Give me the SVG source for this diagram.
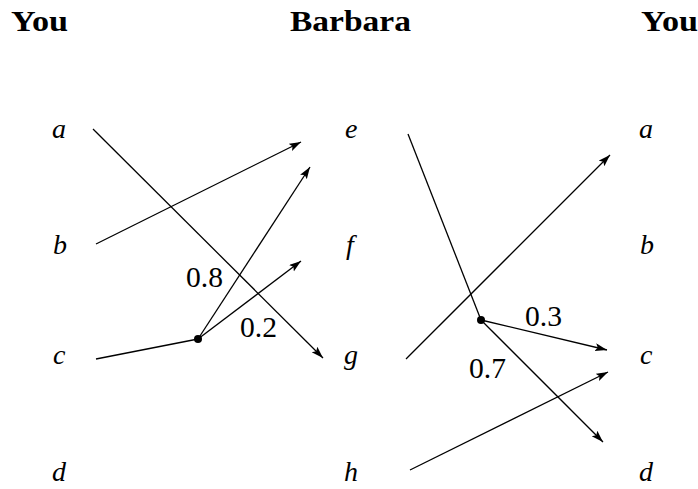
<svg xmlns="http://www.w3.org/2000/svg" width="698" height="489" viewBox="0 0 698 489">
<style>
.ln{stroke:#000;stroke-width:1.3;fill:none}
.arr{marker-end:url(#ah)}
</style>
<defs>
<marker id="ah" markerUnits="userSpaceOnUse" markerWidth="14" markerHeight="10" refX="12" refY="4" orient="auto">
<path d="M0,0 L12,4 L0,8 L2.5,4 Z" fill="#000"/>
</marker>
</defs>
<g id="headers" font-family="Liberation Serif, serif" font-weight="bold" font-size="29" fill="#000">
<text x="11" y="31" textLength="57" lengthAdjust="spacingAndGlyphs">You</text>
<text x="290" y="31" textLength="121" lengthAdjust="spacingAndGlyphs">Barbara</text>
<text x="641" y="31" textLength="57" lengthAdjust="spacingAndGlyphs">You</text>
</g>
<g font-family="Liberation Serif, serif" font-style="italic" font-size="28" fill="#000">
<g id="you-left">
<g id="node-a1"><text x="52" y="138">a</text></g>
<g id="node-b1"><text x="53" y="254">b</text></g>
<g id="node-c1"><text x="53" y="364">c</text></g>
<g id="node-d1"><text x="52" y="481">d</text></g>
</g>
<g id="barbara">
<g id="node-e"><text x="345" y="138">e</text></g>
<g id="node-f"><text x="346" y="254">f</text></g>
<g id="node-g"><text x="344" y="364">g</text></g>
<g id="node-h"><text x="344" y="481">h</text></g>
</g>
<g id="you-right">
<g id="node-a2"><text x="639" y="138">a</text></g>
<g id="node-b2"><text x="640" y="254">b</text></g>
<g id="node-c2"><text x="640" y="364">c</text></g>
<g id="node-d2"><text x="639" y="481">d</text></g>
</g>
</g>
<g id="chance-left">
<circle cx="198" cy="339" r="4" fill="#000"/>
</g>
<g id="chance-right">
<circle cx="481" cy="320" r="4" fill="#000"/>
</g>
<g id="connectors">
<line class="ln arr" x1="93" y1="129" x2="323" y2="358"/>
<line class="ln arr" x1="96" y1="244" x2="301" y2="142"/>
<line class="ln" x1="96" y1="359" x2="198" y2="339"/>
<line class="ln arr" x1="198" y1="339" x2="310" y2="167"/>
<line class="ln arr" x1="198" y1="339" x2="301" y2="261"/>
<line class="ln" x1="408" y1="134" x2="481" y2="320"/>
<line class="ln arr" x1="481" y1="320" x2="607" y2="350"/>
<line class="ln arr" x1="481" y1="320" x2="603" y2="442"/>
<line class="ln arr" x1="406" y1="359" x2="610" y2="155"/>
<line class="ln arr" x1="410" y1="470" x2="608" y2="372"/>
<g font-family="Liberation Serif, serif" font-size="29" fill="#000">
<text x="186" y="287" textLength="37" lengthAdjust="spacingAndGlyphs">0.8</text>
<text x="240" y="337" textLength="37" lengthAdjust="spacingAndGlyphs">0.2</text>
<text x="525" y="326" textLength="37" lengthAdjust="spacingAndGlyphs">0.3</text>
<text x="469" y="378" textLength="37" lengthAdjust="spacingAndGlyphs">0.7</text>
</g>
</g>
</svg>
